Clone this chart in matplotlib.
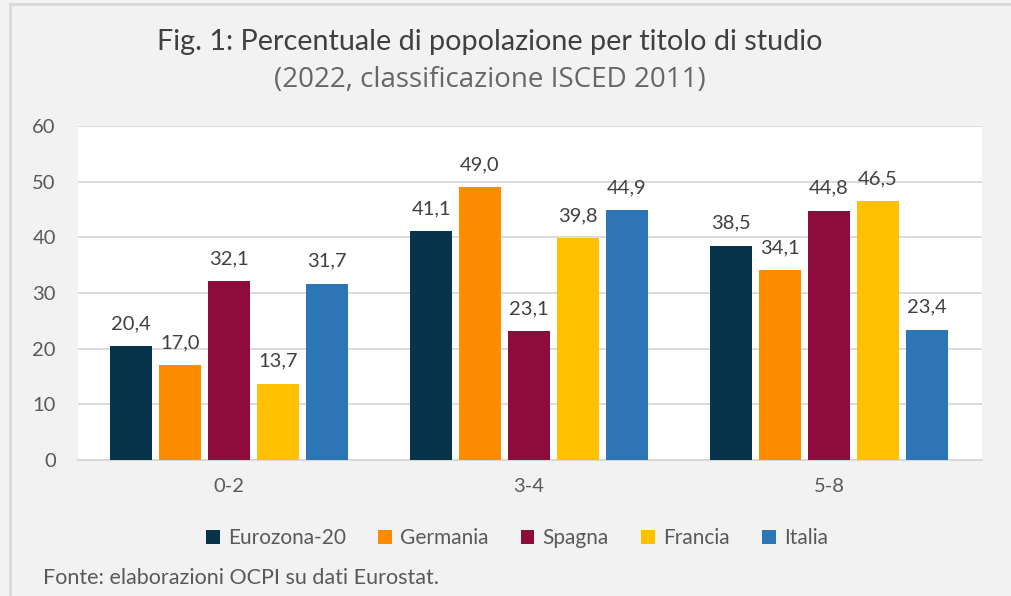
import numpy as np
import matplotlib.pyplot as plt
from matplotlib.lines import Line2D

# data
categories = ["0-2", "3-4", "5-8"]
countries = ["Eurozona-20", "Germania", "Spagna", "Francia", "Italia"]
eurozona = [20.4, 41.1, 38.5]
germania = [17.0, 49.0, 34.1]
spagna = [32.1, 23.1, 44.8]
francia = [13.7, 39.8, 46.5]
italia = [31.7, 44.9, 23.4]
colors = ["#07344a", "#ff8c00", "#8e0c3c", "#ffc000", "#2e75b6"]
yticks = [0, 10, 20, 30, 40, 50, 60]

plt.rcParams['font.family'] = ['Lato', 'DejaVu Sans']

W, H = 1011, 596
fig = plt.figure(figsize=(W / 100, H / 100), dpi=100)
fig.patch.set_facecolor("#f2f2f2")

ax = fig.add_axes([78 / W, (H - 460) / H, 904 / W, 334 / H])
ax.set_facecolor("white")

x = np.arange(len(categories))
step = 0.163
width = 0.14
series = [eurozona, germania, spagna, francia, italia]
for i, (vals, name, c) in enumerate(zip(series, countries, colors)):
    pos = x + (i - 2) * step
    bars = ax.bar(pos, vals, width, color=c, label=name, zorder=3)
    for b, v in zip(bars, vals):
        ax.annotate(f"{v:.1f}".replace(".", ","),
                    (b.get_x() + b.get_width() / 2, v),
                    xytext=(0, 10), textcoords="offset points",
                    ha="center", va="bottom", fontsize=14.5, color="#404040")

ax.set_xlim(-0.503, 2.51)
ax.set_ylim(0, 60)
ax.set_yticks(yticks)
ax.set_xticks(x)
ax.set_xticklabels(categories)
ax.grid(axis="y", color="#d9d9d9", linewidth=1.3, zorder=0)
for s in ["top", "right", "left"]:
    ax.spines[s].set_visible(False)
ax.spines["bottom"].set_color("#d9d9d9")
ax.spines["bottom"].set_linewidth(1.5)
ax.tick_params(axis="both", length=0, labelsize=14.5, colors="#595959")
ax.tick_params(axis="y", pad=16)
ax.tick_params(axis="x", pad=13)

fig.text(490 / W, 1 - 42 / H, "Fig. 1: Percentuale di popolazione per titolo di studio",
         ha="center", va="center", fontsize=20.7, color="#404040")
fig.text(490 / W, 1 - 80 / H, "(2022, classificazione ISCED 2011)",
         ha="center", va="center", fontsize=20, color="#666666",
         family=["Open Sans", "DejaVu Sans"])

leg = fig.legend(loc="center", bbox_to_anchor=(517 / W, 1 - 538 / H), ncol=5,
                 frameon=False, fontsize=15, handlelength=0.65, handleheight=0.65,
                 handletextpad=0.4, columnspacing=1.55)
for t in leg.get_texts():
    t.set_color("#595959")

fig.text(43 / W, 1 - 578 / H, "Fonte: elaborazioni OCPI su dati Eurostat.",
         ha="left", va="center", fontsize=15.5, color="#595959")

# outer frame lines (top and left)
fig.add_artist(Line2D([10 / W, 1], [1 - 4 / H, 1 - 4 / H], color="#d9d9d9", lw=2,
                      transform=fig.transFigure))
fig.add_artist(Line2D([10 / W, 10 / W], [0, 1 - 4 / H], color="#d9d9d9", lw=2,
                      transform=fig.transFigure))

fig.savefig("out.png", dpi=100, facecolor=fig.get_facecolor())
